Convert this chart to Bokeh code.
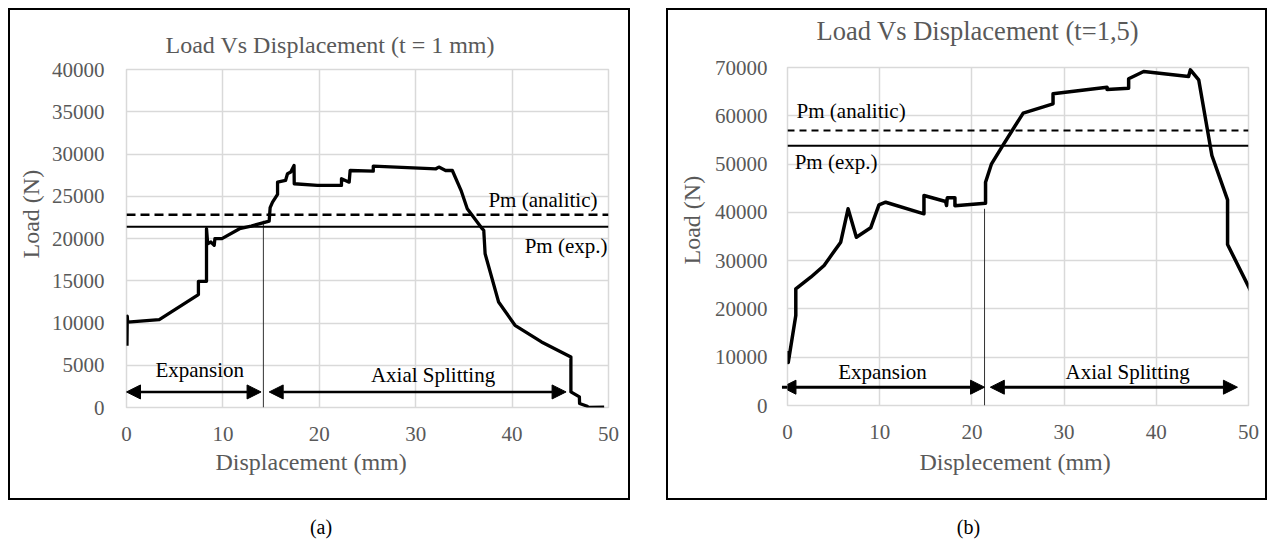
import math
from bokeh.plotting import figure
from bokeh.models import (Range1d, FixedTicker, Span, Label, Arrow, NormalHead,
                          Div, Title)
from bokeh.layouts import row, column
from bokeh.embed import file_html
from bokeh.resources import INLINE

# ---------------- data ----------------
# (a) t = 1 mm
disp_a = [0.05, 0.08, 0.12, 3.4, 7.46, 7.46, 8.3, 8.3, 8.42, 8.76, 9.1, 9.17, 9.9,
          11.73, 12.93, 14.8, 14.9, 15.15, 15.67, 15.67, 16.5, 16.7, 17.04, 17.38,
          17.4, 19.8, 22.3, 22.3, 23.1, 23.2, 25.6, 25.6, 32.1, 32.4, 33.1, 33.8,
          34.7, 35.35, 36.9, 37.06, 37.2, 38.6, 40.3, 43.05, 46.1, 46.1, 46.98,
          47.0, 47.8, 47.9, 49.55]
load_a = [7300, 10800, 10100, 10400, 13360, 14930, 14930, 21160, 19390, 19580,
          19190, 19980, 19980, 21160, 21470, 22060, 23650, 24310, 25220, 26670,
          26870, 27670, 27860, 28650, 26480, 26280, 26280, 27070, 26670, 28050,
          27970, 28570, 28250, 28450, 28050, 28050, 25700, 23530, 21160, 20960,
          18200, 12480, 9730, 7760, 5980, 1840, 1250, 470, 150, 0, 50]
pm_analitic_a = 22800
pm_exp_a = 21400
split_a = 14.2          # boundary expansion / axial splitting (mm)
split_a_top = 22100

# (b) t = 1,5 mm
disp_b = [0.0, 0.08, 0.9, 0.9, 2.52, 3.97, 4.87, 5.77, 6.57, 7.47, 9.02, 9.92,
          10.65, 14.8, 14.8, 17.15, 17.25, 17.33, 18.16, 18.16, 21.48, 21.48,
          22.13, 23.46, 24.37, 25.56, 28.8, 28.8, 34.66, 34.66, 37.0, 37.0, 38.63,
          43.5, 43.7, 44.6, 46.03, 47.73, 47.73, 50.3]
load_b = [11300, 8900, 18640, 24170, 26570, 28990, 31410, 33820, 40730, 34850,
          36800, 41560, 42100, 39700, 43490, 42250, 41420, 43010, 43010, 41350,
          41900, 46250, 50050, 54200, 56950, 60540, 62480, 64550, 65920, 65440,
          65720, 67660, 69170, 68140, 69520, 67450, 51780, 42600, 33340, 23500]
pm_analitic_b = 56950
pm_exp_b = 53780
split_b = 21.37
split_b_top = 40740

x_ticks = [0, 10, 20, 30, 40, 50]
y_ticks_a = [0, 5000, 10000, 15000, 20000, 25000, 30000, 35000, 40000]
y_ticks_b = [0, 10000, 20000, 30000, 40000, 50000, 60000, 70000]

SERIF = "Liberation Serif"
GREY = "#595959"
GRID = "#d9d9d9"


def grey_title(text, size, offset, standoff):
    return Title(text=text, align="left", offset=offset, standoff=standoff,
                 text_font=SERIF, text_font_size=size, text_font_style="normal",
                 text_color=GREY)


def make_panel(xs, ys, ymax, yticks, title, title_size, title_offset,
               title_standoff, top_spacer, xtitle, ytitle, xt_offset, xt_standoff,
               yt_offset, yt_standoff, ylab_standoff,
               pm_an, pm_ex, pm_an_pos, pm_ex_pos, dash, dash_w,
               split_x, split_top, arrow_y, exp_arrow, ax_arrow,
               exp_pos, ax_pos, curve_w, arrow_w,
               width, height, mb_left, mb_right, mb_top, mb_bottom):
    p = figure(width=width, height=height,
               x_range=Range1d(0, 50), y_range=Range1d(0, ymax),
               output_backend="svg", toolbar_location=None,
               min_border_left=mb_left, min_border_right=mb_right,
               min_border_top=mb_top, min_border_bottom=mb_bottom,
               background_fill_color="white", border_fill_color="white",
               styles={"border": "2px solid black"})
    p.title = grey_title(title, title_size, title_offset, title_standoff)
    if top_spacer is not None:
        # empty panel between the frame and the title, lifting the title
        p.add_layout(Title(text=" ", text_font_size="1px", standoff=top_spacer),
                     "above")
    p.outline_line_color = GRID
    p.outline_line_width = 1.5

    for ax in (p.xaxis[0], p.yaxis[0]):
        ax.axis_line_color = None
        ax.major_tick_line_color = None
        ax.minor_tick_line_color = None
        ax.major_label_text_font = SERIF
        ax.major_label_text_font_size = "21px"
        ax.major_label_text_color = GREY
    p.xaxis[0].ticker = FixedTicker(ticks=x_ticks)
    p.yaxis[0].ticker = FixedTicker(ticks=yticks)
    p.xaxis[0].major_label_standoff = 13
    p.yaxis[0].major_label_standoff = ylab_standoff
    p.xgrid.ticker = FixedTicker(ticks=x_ticks)
    p.ygrid.ticker = FixedTicker(ticks=yticks)
    p.xgrid.grid_line_color = GRID
    p.ygrid.grid_line_color = GRID
    p.xgrid.grid_line_width = 1.5
    p.ygrid.grid_line_width = 1.5

    # axis titles (as side titles, so that they may be shifted like Excel's)
    p.add_layout(grey_title(xtitle, "24px", xt_offset, xt_standoff), "below")
    p.add_layout(grey_title(ytitle, "24px", yt_offset, yt_standoff), "left")

    # Pm lines
    p.add_layout(Span(location=pm_an, dimension="width", line_color="black",
                      line_width=dash_w, line_dash=dash))
    p.add_layout(Span(location=pm_ex, dimension="width", line_color="black",
                      line_width=2))

    # separator
    p.line([split_x, split_x], [0, split_top], line_color="#333333",
           line_width=1)

    # curve
    p.line(xs, ys, line_color="black", line_width=curve_w, line_join="round")

    # arrows
    for (x0, x1) in (exp_arrow, ax_arrow):
        p.add_layout(Arrow(x_start=x0, y_start=arrow_y, x_end=x1, y_end=arrow_y,
                           line_width=arrow_w, line_color="black",
                           start=NormalHead(size=14, fill_color="black",
                                            line_color="black", line_width=1),
                           end=NormalHead(size=14, fill_color="black",
                                          line_color="black", line_width=1)))

    for (pos, txt) in ((pm_an_pos, "Pm (analitic)"), (pm_ex_pos, "Pm (exp.)"),
                       (exp_pos, "Expansion"), (ax_pos, "Axial Splitting")):
        p.add_layout(Label(x=pos[0], y=pos[1], text=txt, text_align="center",
                           text_baseline="middle", text_font=SERIF,
                           text_font_size="21px", text_color="black"))
    return p


pa = make_panel(disp_a, load_a, 40000, y_ticks_a,
                "Load Vs Displacement (t = 1 mm)", "24px", 39, 23, None,
                "Displacement (mm)", "Load (N)", 89, 6, 149, 10, 16,
                pm_analitic_a, pm_exp_a, (43.2, 24510), (45.6, 19070),
                "9 5", 2.5, split_a, split_a_top, 1840, (0, 13.96), (14.8, 45.6),
                (7.6, 4410), (31.8, 3820), 3.3, 2.5,
                622, 492, 111, 24, 59, 95)

pb = make_panel(disp_b, load_b, 70000, y_ticks_b,
                "Load Vs Displacement (t=1,5)", "26.5px", 29, 0, 19,
                "Displecement (mm)", "Load (N)", 132, 10, 141, 14, 14,
                pm_analitic_b, pm_exp_b, (6.9, 60950), (5.27, 50390),
                "7 5", 1.8, split_b, split_b_top, 3790, (-0.6, 21.37), (22.0, 48.8),
                (10.3, 7040), (36.9, 7040), 3.5, 3,
                601, 492, 119, 21, 57, 97)

cap_style = ("text-align:center; font-family:'Liberation Serif', serif;"
             " font-size:20px; color:black; line-height:22px; padding-top:16px;")
cap_host = {"font-family": "'Liberation Serif', serif", "font-size": "20px",
            "color": "black"}
da = Div(text=f'<div style="width:626px; {cap_style}">(a)</div>',
         width=626, height=39, margin=(0, 0, 0, 0), styles=cap_host)
db = Div(text=f'<div style="width:605px; {cap_style}">(b)</div>',
         width=605, height=39, margin=(0, 0, 0, 0), styles=cap_host)

layout = row(column(pa, da), column(pb, db), spacing=32, margin=(8, 0, 0, 8))

open("out.html", "w").write(file_html(layout, INLINE))
